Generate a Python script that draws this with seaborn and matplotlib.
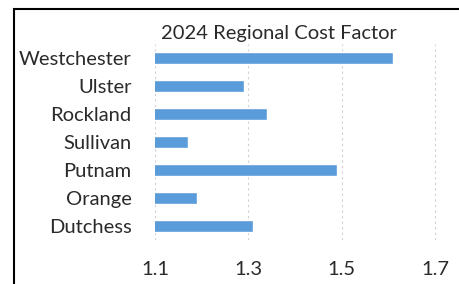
import matplotlib
matplotlib.use("Agg")
import matplotlib.pyplot as plt
import seaborn as sns
import pandas as pd
from matplotlib.patches import Rectangle

counties = ["Westchester", "Ulster", "Rockland", "Sullivan", "Putnam", "Orange", "Dutchess"]
cost_factor = [1.61, 1.29, 1.34, 1.17, 1.49, 1.19, 1.31]
x_ticks = [1.1, 1.3, 1.5, 1.7]

sns.set_style("white")
plt.rcParams['font.family'] = ['Lato', 'DejaVu Sans']

df = pd.DataFrame({'county': counties, 'factor': cost_factor})

fig = plt.figure(figsize=(4.59, 2.84), dpi=100)
ax = fig.add_axes([0.338, 0.155, 0.62, 0.69])
sns.barplot(data=df, x='factor', y='county', color="#5A9BDA", saturation=1,
            width=0.4, orient='h', ax=ax)

ax.set_xlim(1.1, 1.71)
ax.set_xticks(x_ticks)
ax.set_xticklabels([f"{t:.1f}" for t in x_ticks])
ax.xaxis.grid(True, color="#cfcfcf", linestyle=(0, (2, 3)), linewidth=0.8)
ax.set_axisbelow(True)
ax.tick_params(axis='x', length=0, pad=15, labelsize=14.5, colors="#2a2a2a")
ax.tick_params(axis='y', length=0, pad=17, labelsize=14.5, colors="#2a2a2a")
ax.set_xlabel("")
ax.set_ylabel("")
for s in ax.spines.values():
    s.set_visible(False)

fig.text(279 / 459, 1 - 33 / 284, "2024 Regional Cost Factor", ha='center', va='center',
         fontsize=14.5, color="#2a2a2a")

# chart border (cut off at right and bottom)
fig.patches.append(Rectangle((14 / 459, -0.1), 1.2, 1 - 9 / 284 + 0.1, transform=fig.transFigure,
                             fill=False, edgecolor="black", linewidth=1.5))

fig.savefig("out.png", dpi=100)
